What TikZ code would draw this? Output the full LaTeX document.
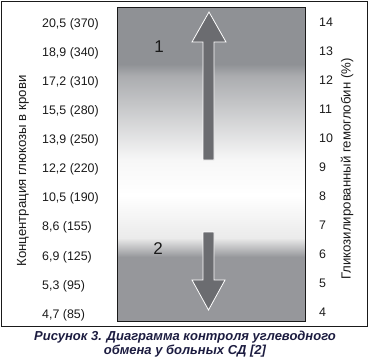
\documentclass[tikz,border=0pt]{standalone}
\usepackage{fontspec}
\setmainfont{Liberation Sans}
\usetikzlibrary{positioning}
\definecolor{ink}{HTML}{1A1A1A}
\definecolor{navy}{HTML}{1C1C40}
\definecolor{band}{HTML}{8F9195}
\definecolor{bandlo}{HTML}{96979B}
\definecolor{pale}{HTML}{F7F7F7}
\definecolor{arrowfill}{HTML}{6B6C70}
\tikzset{
  frame/.style={draw=ink, line width=1.3pt},
  plotbox/.style={draw=ink, line width=0.8pt},
  tick/.style={font=\fontsize{12.4}{14}\selectfont, text=ink, anchor=west, inner sep=0pt},
  axlbl/.style={font=\fontsize{13.2}{15}\selectfont, text=ink, rotate=90, inner sep=0pt},
  zone/.style={font=\fontsize{17}{20}\selectfont, text=ink, inner sep=0pt},
  bigarrow/.style={fill=arrowfill, draw=white, line width=0.8pt, line join=miter},
  capt/.style={font=\fontsize{13}{14.5}\selectfont\bfseries\itshape, text=navy,
               align=center, inner sep=0pt},
}
\begin{document}
\begin{tikzpicture}[x=1pt, y=-1pt]
\useasboundingbox (0,0) rectangle (369,360);
% gradient bands of the plot
\fill[band] (117,7) rectangle (305,64);
\shade[top color=band, bottom color=band!75!white] (117,64) rectangle (305,76);
\shade[top color=band!75!white, bottom color=pale] (117,76) rectangle (305,160);
\shade[top color=pale, bottom color=white] (117,160) rectangle (305,195);
\shade[top color=white, bottom color=pale!95!black] (117,195) rectangle (305,238);
\shade[top color=pale!95!black, bottom color=bandlo] (117,238) rectangle (305,257);
\fill[bandlo] (117,257) rectangle (305,321);
\draw[plotbox] (117,7) rectangle (305,321);
\draw[frame] (1.5,1.5) rectangle (367.5,326.5);
% arrows
\draw[bigarrow] (203,160) -- (203,42) -- (192,42) -- (209,12) -- (226,42) -- (214,42) -- (214,160) -- cycle;
\draw[bigarrow] (203,232) -- (203,280) -- (192,280) -- (208.5,310) -- (225,280) -- (214,280) -- (214,232) -- cycle;
\node[zone] (z1) at (159,47) {1};
\node[zone] (z2) at (158,249) {2};
% glucose scale
\foreach \v [count=\i from 0] in {{20,5 (370)},{18,9 (340)},{17,2 (310)},{15,5 (280)},{13,9 (250)},{12,2 (220)},{10,5 (190)},{8,6 (155)},{6,9 (125)},{5,3 (95)},{4,7 (85)}}
  \node[tick] (gl\i) at (42,24+29.1*\i) {\v};
\node[axlbl] (glname) at (23,171) {Концентрация глюкозы в крови};
% HbA1c scale
\foreach \h [count=\i from 0] in {14,13,...,4}
  \node[tick] (hb\i) at (319,22+29*\i) {\h};
\node[axlbl] (hbname) at (347,169) {Гликозилированный гемоглобин (\%)};
% caption
\node[capt] (cap) at (185,344) {Рисунок 3. Диаграмма контроля углеводного\\обмена у больных СД [2]};
\end{tikzpicture}
\end{document}
